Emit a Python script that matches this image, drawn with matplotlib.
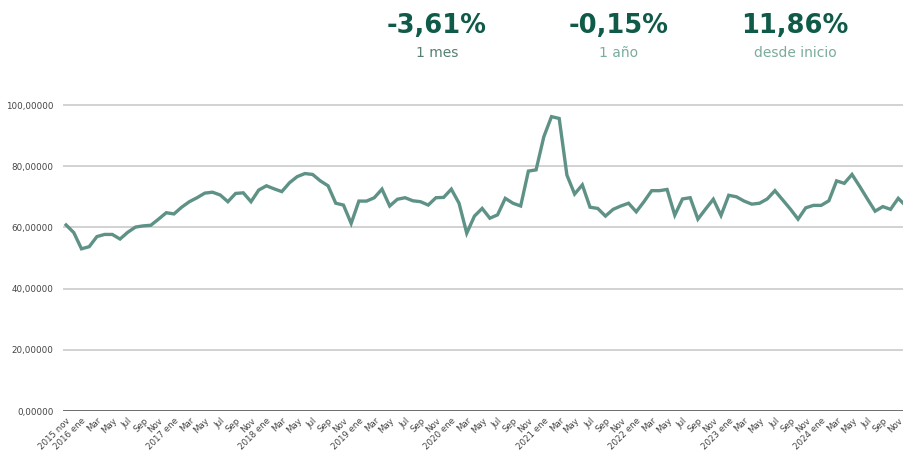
import matplotlib
matplotlib.use("Agg")
import matplotlib.pyplot as plt
import numpy as np

# Monthly values 2015-11 .. 2024-12
values = [
    60.8, 58.3,
    53.0, 53.7, 57.0, 57.7, 57.7, 56.2, 58.4, 60.1, 60.5, 60.7, 62.7, 64.8,   # 2016
    64.4, 66.6, 68.4, 69.7, 71.2, 71.5, 70.6, 68.4, 71.1, 71.3, 68.4, 72.2,   # 2017
    73.6, 72.6, 71.7, 74.6, 76.6, 77.6, 77.3, 75.2, 73.6, 67.9, 67.3, 61.3,   # 2018
    68.6, 68.6, 69.7, 72.5, 67.0, 69.2, 69.7, 68.7, 68.4, 67.3, 69.7, 69.8,   # 2019
    72.5, 67.9, 58.1, 63.7, 66.2, 63.0, 64.1, 69.5, 67.9, 67.0, 78.4, 78.8,   # 2020
    89.6, 96.2, 95.6, 77.1, 70.9, 73.9, 66.6, 66.2, 63.7, 65.9, 67.0, 67.9,   # 2021
    65.1, 68.4, 72.0, 72.0, 72.4, 64.0, 69.3, 69.7, 62.7, 66.0, 69.2, 63.9,   # 2022
    70.5, 70.0, 68.6, 67.6, 67.9, 69.3, 72.0, 69.0, 66.0, 62.7, 66.4, 67.2,   # 2023
    67.2, 68.7, 75.2, 74.4, 77.3, 73.4, 69.3, 65.3, 66.8, 65.9, 69.5, 67.0,   # 2024
]

# Tick labels every two months starting 2015 nov
tick_labels = ["2015 nov"]
for year in range(2016, 2025):
    tick_labels += [f"{year} ene", "Mar", "May", "Jul", "Sep", "Nov"]

y_ticks = [0, 20, 40, 60, 80, 100]
y_tick_labels = ["0,00000", "20,00000", "40,00000", "60,00000", "80,00000", "100,00000"]

headline_values = ["-3,61%", "-0,15%", "11,86%"]
headline_labels = ["1 mes", "1 año", "desde inicio"]

W, H = 904, 451
fig = plt.figure(figsize=(W / 100, H / 100), dpi=100)
ax_left, ax_right = 63, 904
ax_bottom_px, ax_top_px = 411, 74.4
ax = fig.add_axes([ax_left / W, (H - ax_bottom_px) / H,
                   (ax_right - ax_left) / W, (ax_bottom_px - ax_top_px) / H])

x = np.arange(len(values))
ax.plot(x, values, color="#5f9286", lw=2.4, solid_joinstyle="miter", zorder=3)

ax.set_xlim(-0.4, 108.75)
ax.set_ylim(0, 110)

for yv in y_ticks[1:]:
    ax.axhline(yv, color="#cfcfcf", lw=1.3, zorder=1)
ax.axhline(0, color="#6e6e6e", lw=1.4, zorder=2)

for s in ax.spines.values():
    s.set_visible(False)

ax.set_yticks(y_ticks)
ax.set_yticklabels(y_tick_labels, fontsize=6.3, color="#444444")
ax.set_xticks(np.arange(0, 2 * len(tick_labels), 2))
ax.set_xticklabels(tick_labels, fontsize=6.2, color="#444444",
                   rotation=45, ha="right", va="top", rotation_mode="anchor")
ax.tick_params(axis="y", length=0, pad=7)
ax.tick_params(axis="x", length=0, pad=3.5)

centers = [437, 619, 795]
sub_colors = ["#557f74", "#7aab9e", "#7aab9e"]
for cx, v, lab, c in zip(centers, headline_values, headline_labels, sub_colors):
    fig.text(cx / W, 1 - 26 / H, v, ha="center", va="center", fontsize=18.5,
             fontweight="bold", color="#0f5a48")
    fig.text(cx / W, 1 - 53 / H, lab, ha="center", va="center", fontsize=10,
             color=c)

fig.savefig("out.png", dpi=100)
